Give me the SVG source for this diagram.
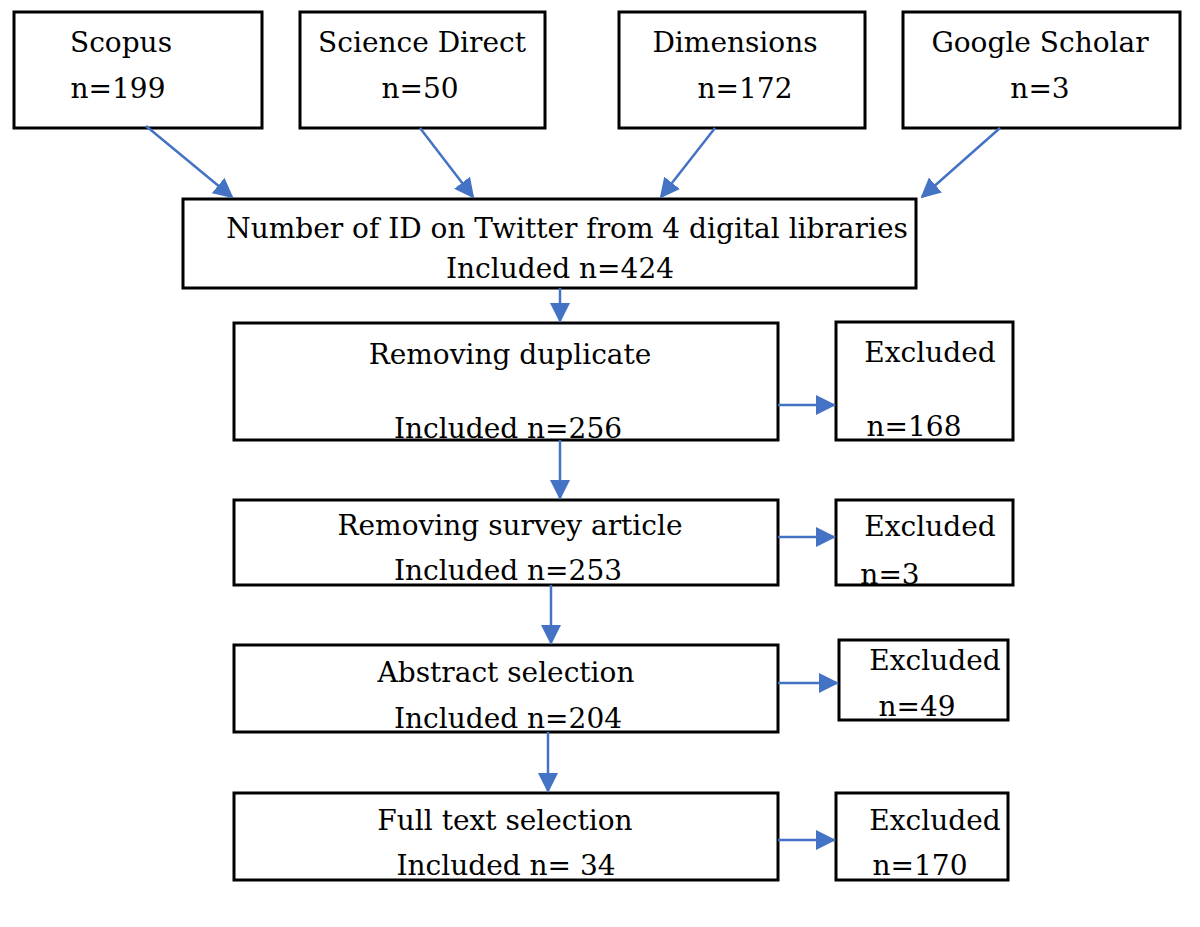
<svg xmlns="http://www.w3.org/2000/svg" width="1200" height="927" viewBox="0 0 1200 927">
<style>
.b{fill:#fff;stroke:#000;stroke-width:3}
text{font-family:"DejaVu Serif","Liberation Serif",serif;font-size:28px;fill:#000;text-anchor:middle}
.c line{stroke:#4472C4;stroke-width:2.5;marker-end:url(#a)}
</style>
<defs><marker id="a" markerWidth="20" markerHeight="20" refX="18" refY="10" orient="auto" markerUnits="userSpaceOnUse"><path d="M0,0L20,10L0,20z" fill="#4472C4"/></marker></defs>
<rect width="1200" height="927" fill="#fff"/>
<g id="scopus"><rect class="b" x="14" y="12" width="248" height="116"/><text x="121" y="52">Scopus</text><text x="118" y="98">n=199</text></g>
<g id="sd"><rect class="b" x="300" y="12" width="245" height="116"/><text x="422" y="52">Science Direct</text><text x="420" y="98">n=50</text></g>
<g id="dim"><rect class="b" x="619" y="12" width="246" height="116"/><text x="735" y="52">Dimensions</text><text x="745" y="98">n=172</text></g>
<g id="gs"><rect class="b" x="903" y="12" width="277" height="116"/><text x="1040" y="52">Google Scholar</text><text x="1040" y="98">n=3</text></g>
<g id="main"><rect class="b" x="183" y="199" width="733" height="89"/><text x="567" y="238">Number of ID on Twitter from 4 digital libraries</text><text x="560" y="278">Included n=424</text></g>
<g id="dup"><rect class="b" x="234" y="323" width="544" height="117"/><text x="510" y="364">Removing duplicate</text><text x="508" y="438">Included n=256</text></g>
<g id="ex1"><rect class="b" x="836" y="322" width="177" height="118"/><text x="930" y="362">Excluded</text><text x="914" y="436">n=168</text></g>
<g id="sur"><rect class="b" x="234" y="500" width="544" height="85"/><text x="510" y="535">Removing survey article</text><text x="508" y="580">Included n=253</text></g>
<g id="ex2"><rect class="b" x="836" y="500" width="177" height="85"/><text x="930" y="536">Excluded</text><text x="890" y="584">n=3</text></g>
<g id="abs"><rect class="b" x="234" y="645" width="544" height="87"/><text x="506" y="682">Abstract selection</text><text x="508" y="728">Included n=204</text></g>
<g id="ex3"><rect class="b" x="839" y="640" width="169" height="80"/><text x="935" y="670">Excluded</text><text x="917" y="716">n=49</text></g>
<g id="full"><rect class="b" x="234" y="793" width="544" height="87"/><text x="505" y="830">Full text selection</text><text x="506" y="875">Included n= 34</text></g>
<g id="ex4"><rect class="b" x="836" y="793" width="172" height="87"/><text x="935" y="830">Excluded</text><text x="920" y="875">n=170</text></g>
<g class="c" id="connectors">
<line x1="146" y1="126" x2="232" y2="197"/>
<line x1="420" y1="128" x2="473" y2="197"/>
<line x1="715" y1="128" x2="661" y2="197"/>
<line x1="1000" y1="128" x2="922" y2="197"/>
<line x1="560" y1="288" x2="560" y2="321"/>
<line x1="560" y1="440" x2="560" y2="498"/>
<line x1="551" y1="585" x2="551" y2="643"/>
<line x1="548" y1="732" x2="548" y2="791"/>
<line x1="778" y1="405" x2="834" y2="405"/>
<line x1="778" y1="537" x2="834" y2="537"/>
<line x1="778" y1="683" x2="837" y2="683"/>
<line x1="778" y1="840" x2="834" y2="840"/>
</g>
</svg>
